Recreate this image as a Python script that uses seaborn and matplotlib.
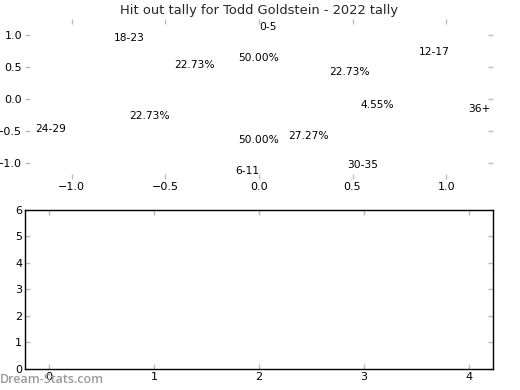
import numpy as np
import seaborn as sns
import matplotlib
matplotlib.use('Agg')
import matplotlib.pyplot as plt

#Data
half_labels = ['0-5', '6-11']
half_counts = [1, 1]
age_labels = ['12-17', '18-23', '24-29', '30-35', '36+']
age_counts = [5, 5, 5, 6, 1]
pie_ticks = [-1.0, -0.5, 0.0, 0.5, 1.0]
bar_xticks = [0, 1, 2, 3, 4]
bar_yticks = [0, 1, 2, 3, 4, 5, 6]
title = 'Hit out tally for Todd Goldstein - 2022 tally'

sns.set_theme(style='white')
plt.rcParams['font.family'] = ['DejaVu Sans']

fig = plt.figure(figsize=(5.2, 3.9), dpi=100)
ax1 = fig.add_axes([0.048, 0.541, 0.9, 0.41])
ax2 = fig.add_axes([0.048, 0.054, 0.9, 0.408])

#Two white pies on top of each other, only the texts show
for labels, counts in [(half_labels, half_counts), (age_labels, age_counts)]:
    wedges, texts, autotexts = ax1.pie(
        counts, labels=labels, autopct='%.2f%%', colors=['white'] * len(counts),
        wedgeprops={'linewidth': 0}, frame=True,
        labeldistance=1.13, pctdistance=0.64,
        textprops={'fontsize': 7.7, 'color': 'black'})
    if labels == half_labels:
        #top label hangs right of centre, bottom one left of it
        texts[0].set_ha('left')
        texts[1].set_ha('right')
ax1.set_aspect('auto')
ax1.set_frame_on(False)
ax1.set_xlim(-1.25, 1.25)
ax1.set_ylim(-1.25, 1.25)
ax1.set_xticks(pie_ticks)
ax1.set_yticks(pie_ticks)
ax1.set_title(title, fontsize=9.4, pad=3.5)

#Empty lower panel
ax2.set_xlim(-0.23, 4.23)
ax2.set_ylim(0, 6)
ax2.set_xticks(bar_xticks)
ax2.set_yticks(bar_yticks)
for s in ax2.spines.values():
    s.set_color('black')
    s.set_linewidth(1)

for ax in (ax1, ax2):
    ax.tick_params(direction='in', length=3.5, width=1, color='#bbbbbb',
                   labelcolor='black', labelsize=8, top=True, right=True,
                   bottom=True, left=True, pad=2)
    ax.set_xlabel('')
    ax.set_ylabel('')

fig.text(0.0, 0.01, 'Dream-Stats.com', color='#9a9a9a', fontsize=9,
         fontweight='semibold', family=['Open Sans', 'DejaVu Sans'], ha='left', va='bottom')

fig.savefig('out.png', dpi=100)
